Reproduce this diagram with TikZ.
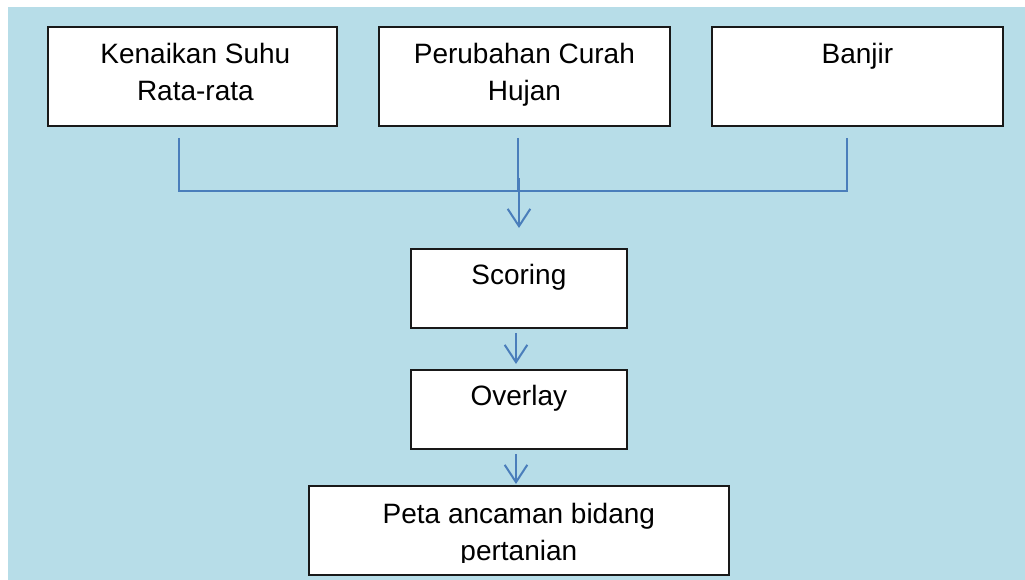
\documentclass[tikz,border=0pt]{standalone}
\usepackage{fontspec}
\setmainfont{Liberation Sans}
\usetikzlibrary{arrows.meta,calc}
\definecolor{bgblue}{HTML}{B7DDE8}
\definecolor{linkblue}{HTML}{4A7EBB}
\tikzset{
  stepbox/.style={draw=black!90, line width=1.3pt, fill=white, rectangle,
    inner sep=0pt, anchor=north west},
  boxtext/.style={anchor=north, inner sep=0pt, align=center,
    font={\fontsize{21}{27.75}\selectfont}},
  link/.style={draw=linkblue, line width=1.5pt},
  flow/.style={link, -{Straight Barb[length=13pt, width=17pt, line width=1.5pt]}}
}
\begin{document}
\begin{tikzpicture}[x=0.75pt, y=-0.75pt]
  \useasboundingbox (0,0) rectangle (1025,580);
  \fill[bgblue] (8,7) rectangle (1025,580);

  % input boxes
  \node[stepbox, minimum width=0.75*289pt, minimum height=0.75*99pt] (suhu) at (47,26) {};
  \node[stepbox, minimum width=0.75*291pt, minimum height=0.75*99pt] (curah) at (378,26) {};
  \node[stepbox, minimum width=0.75*291pt, minimum height=0.75*99pt] (banjir) at (711,26) {};
  \node[boxtext] (tsuhu) at ($(suhu.north)+(3,17)$) {Kenaikan Suhu\\Rata-rata};
  \node[boxtext] (tcurah) at ($(curah.north)+(0,17)$) {Perubahan Curah\\Hujan};
  \node[boxtext] (tbanjir) at ($(banjir.north)+(0,17)$) {Banjir};

  % processing boxes
  \node[stepbox, minimum width=0.75*216pt, minimum height=0.75*79pt] (scoring) at (410,248) {};
  \node[boxtext] (tscoring) at ($(scoring.north)+(0,16)$) {Scoring};
  \node[stepbox, minimum width=0.75*216pt, minimum height=0.75*79pt] (overlay) at (410,369) {};
  \node[boxtext] (toverlay) at ($(overlay.north)+(0,16)$) {Overlay};
  \node[stepbox, minimum width=0.75*420pt, minimum height=0.75*89pt] (peta) at (308,485) {};
  \begin{scope}
    \clip (308,485) rectangle (728,563);
    \node[boxtext] (tpeta) at ($(peta.north)+(0,18)$) {Peta ancaman bidang\\pertanian};
  \end{scope}

  % joining lines
  \coordinate (a1) at (179,138);
  \coordinate (a2) at (179,191);
  \coordinate (b1) at (518,138);
  \coordinate (b2) at (518,191);
  \coordinate (c1) at (847,138);
  \coordinate (c2) at (847,191);
  \draw[link] (a1) -- (a2) -- (c2) -- (c1);
  \draw[link] (b1) -- (b2);
  \coordinate (m1) at (519,178);
  \coordinate (m2) at (519,228);
  \draw[flow] (m1) -- (m2);

  % flow between processing steps
  \coordinate (s1) at (516,333);
  \coordinate (s2) at (516,364);
  \draw[flow] (s1) -- (s2);
  \coordinate (o1) at (516,454);
  \coordinate (o2) at (516,484);
  \draw[flow] (o1) -- (o2);
\end{tikzpicture}
\end{document}
